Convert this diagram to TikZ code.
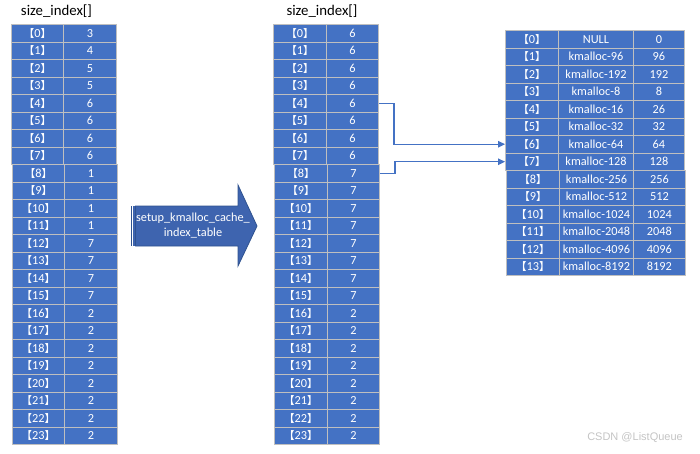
\documentclass[tikz,border=0pt]{standalone}
\usepackage{fontspec}
\setmainfont{Carlito}
\newfontfamily\cjk{Noto Sans CJK SC Bold}
\newfontfamily\wmfont{Liberation Sans}
\usetikzlibrary{arrows.meta}
\definecolor{cellblue}{HTML}{4472C4}
\definecolor{cellline}{HTML}{BFBFBF}
\definecolor{arrowfill}{HTML}{3E64AF}
\definecolor{arrowline}{HTML}{2F528F}
\definecolor{wmgray}{HTML}{C4C4C4}
\newcommand{\bidx}[1]{{\cjk\fontsize{10.5}{11}\selectfont 【}#1{\cjk\fontsize{10.5}{11}\selectfont 】}}
\begin{document}
\begin{tikzpicture}[x=1pt,y=-1pt,
  cellbox/.style={draw=cellline, fill=cellblue, line width=0.9pt, text=white, inner sep=0pt,
    anchor=north west, minimum height=17.5pt, font=\fontsize{12.3}{14}\selectfont},
  titletext/.style={font=\fontsize{14.8}{16}\selectfont, text=black, inner sep=0pt},
  conn/.style={draw=cellblue, line width=1.2pt, -{Triangle[length=7pt,width=6.5pt]}},
  bigarrow/.style={fill=arrowfill, draw=arrowline, line width=0.8pt},
  arrowtext/.style={font=\fontsize{12.3}{15}\selectfont, text=white, align=center, inner sep=0pt},
  wm/.style={font=\wmfont\fontsize{11}{12}\selectfont, text=wmgray, inner sep=0pt}]
\useasboundingbox (0,0) rectangle (700,453);

% titles
\node[titletext] (t1) at (56.5,11) {size\_index[]};
\node[titletext] (t2) at (322,11) {size\_index[]};

% left table
\foreach \v [count=\i from 0] in {3,4,5,5,6,6,6,6,1,1,1,1,7,7,7,7,2,2,2,2,2,2,2,2} {
  \pgfmathsetmacro\dx{\i>7 ? 1 : 0}
  \node[cellbox, minimum width=52pt] (L\i) at (11+\dx, 24+\i*17.5) {\bidx{\i}};
  \node[cellbox, minimum width=53pt] (LV\i) at (63+\dx, 24+\i*17.5) {\v};
}

% middle table
\foreach \v [count=\i from 0] in {6,6,6,6,6,6,6,6,7,7,7,7,7,7,7,7,2,2,2,2,2,2,2,2} {
  \pgfmathsetmacro\dx{\i>7 ? 1 : 0}
  \node[cellbox, minimum width=53pt] (M\i) at (273+\dx, 24+\i*17.5) {\bidx{\i}};
  \node[cellbox, minimum width=52pt] (MV\i) at (326+\dx, 24+\i*17.5) {\v};
}

% right table
\foreach \n/\s [count=\i from 0] in {NULL/0, kmalloc-96/96, kmalloc-192/192, kmalloc-8/8,
    kmalloc-16/26, kmalloc-32/32, kmalloc-64/64, kmalloc-128/128, kmalloc-256/256,
    kmalloc-512/512, kmalloc-1024/1024, kmalloc-2048/2048, kmalloc-4096/4096, kmalloc-8192/8192} {
  \pgfmathsetmacro\dx{\i>7 ? 1 : 0}
  \node[cellbox, minimum width=53pt] (R\i) at (505+\dx, 30+\i*17.5) {\bidx{\i}};
  \node[cellbox, minimum width=75pt-\dx pt] (RN\i) at (558+\dx, 30+\i*17.5) {\n};
  \node[cellbox, minimum width=51pt+\dx pt] (RS\i) at (633, 30+\i*17.5) {\s};
}

% block arrow
\fill[arrowline] (130.5,206) rectangle (132.2,246);
\fill[arrowfill] (133.2,206) rectangle (134.6,246);
\path[bigarrow] (135.5,206) -- (238,206) -- (238,185) -- (257,226) -- (238,266)
  -- (238,246) -- (135.5,246) -- cycle;
\node[arrowtext] (alabel) at (193,226) {setup\_kmalloc\_cache\_\\index\_table};

% connectors
\coordinate (j1) at (394,0);
\coordinate (j2) at (395,0);
\draw[conn] (MV4.east) -| (j1 |- R6.west) -- (R6.west);
\draw[conn] (MV8.east) -| (j2 |- R7.west) -- (R7.west);

% watermark
\node[wm, anchor=east] (wmk) at (683,438) {CSDN @ListQueue};
\end{tikzpicture}
\end{document}
